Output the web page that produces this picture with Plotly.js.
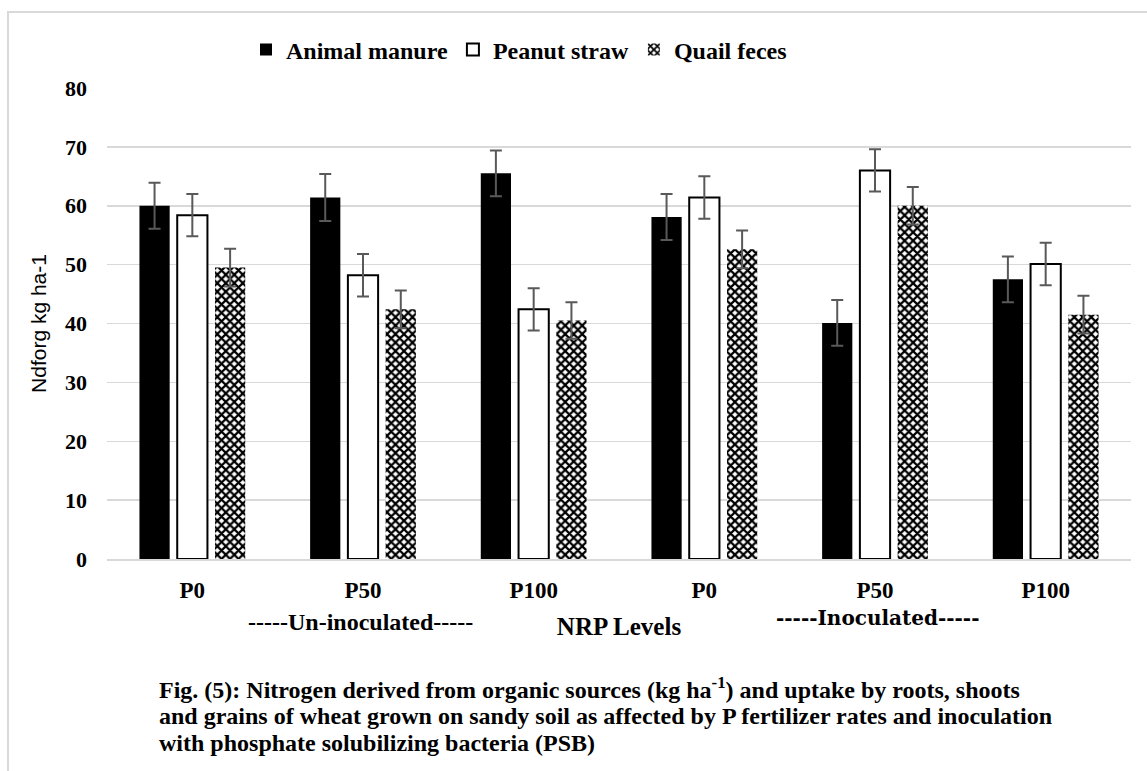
<!DOCTYPE html>
<html>
<head>
<meta charset="utf-8">
<script src="https://cdn.plot.ly/plotly-3.0.1.min.js"></script>
<style>
  html, body { margin: 0; padding: 0; background: #ffffff; }
  #chart { width: 1147px; height: 771px; }
</style>
</head>
<body>
<div id="chart"></div>
<script>
// ---- data ----
const categories = ["P0", "P50", "P100", "P0", "P50", "P100"];
const inoculation = ["Un-inoculated", "Un-inoculated", "Un-inoculated", "Inoculated", "Inoculated", "Inoculated"];
const seriesNames = ["Animal manure", "Peanut straw", "Quail feces"];
const animalManure = [60.0, 61.4, 65.5, 58.1, 40.1, 47.5];
const peanutStraw  = [58.4, 48.2, 42.4, 61.4, 66.0, 50.1];
const quailFeces   = [49.5, 42.4, 40.5, 52.6, 60.0, 41.5];
const animalErr = [3.9, 4.0, 3.9, 3.9, 3.9, 3.9];
const peanutErr = [3.6, 3.6, 3.6, 3.6, 3.6, 3.6];
const quailErr  = [3.2, 3.2, 3.1, 3.2, 3.2, 3.2];
const yTicks = [0, 10, 20, 30, 40, 50, 60, 70, 80];

// unique category keys (treatment + P level); ticks show only the P level
const xKeys = categories.map((c, i) => inoculation[i] + " " + c);

const serif = "Liberation Serif, Times New Roman, serif";
const errStyle = (arr) => ({ type: "data", array: arr, visible: true, color: "#595959", thickness: 2, width: 6 });

const traces = [
  {
    type: "bar", name: seriesNames[0], x: xKeys, y: animalManure,
    marker: { color: "#000000", line: { color: "#000000", width: 0 } },
    error_y: errStyle(animalErr)
  },
  {
    type: "bar", name: seriesNames[1], x: xKeys, y: peanutStraw,
    marker: { color: "#ffffff", line: { color: "#000000", width: 2 } },
    error_y: errStyle(peanutErr)
  },
  {
    type: "bar", name: seriesNames[2], x: xKeys, y: quailFeces,
    marker: {
      color: "#ffffff",
      line: { color: "#ffffff", width: 0 },
      pattern: { shape: "x", fgcolor: "#000000", bgcolor: "#ffffff", size: 6, solidity: 0.6, fillmode: "replace" }
    },
    error_y: errStyle(quailErr)
  }
];

// plot-area pixel geometry used to place paper-referenced decorations
const W = 1147, H = 771, L = 107, R = 16, T = 88, B = 212;
const pw = W - L - R, ph = H - T - B;
const px = (x) => (x - L) / pw;
const py = (y) => (H - B - y) / ph;

const layout = {
  width: W, height: H,
  margin: { l: L, r: R, t: T, b: B },
  paper_bgcolor: "#ffffff",
  plot_bgcolor: "#ffffff",
  barmode: "group",
  bargap: 0.336,
  bargroupgap: 0.2,
  showlegend: true,
  legend: {
    orientation: "h",
    x: px(246), xanchor: "left",
    y: py(50), yanchor: "middle",
    font: { family: serif, size: 24, color: "#000000", weight: "bold" },
    bgcolor: "rgba(0,0,0,0)",
    itemclick: false
  },
  xaxis: {
    type: "category",
    tickmode: "array",
    tickvals: xKeys,
    ticktext: categories.map(c => "<b>" + c + "</b>"),
    tickfont: { family: serif, size: 23, color: "#000000" },
    ticks: "",
    ticklabelstandoff: 9,
    showgrid: false,
    showline: true,
    linecolor: "#d9d9d9",
    linewidth: 2,
    zeroline: false,
    title: {
      text: "<b>NRP Levels</b>",
      font: { family: serif, size: 25, color: "#000000" },
      standoff: 16
    },
    automargin: false
  },
  yaxis: {
    range: [0, 80],
    tickmode: "array",
    tickvals: yTicks,
    ticktext: yTicks.map(v => "<b>" + v + "</b>"),
    tickfont: { family: serif, size: 22, color: "#000000" },
    ticks: "",
    ticklabelstandoff: 19,
    showgrid: true,
    gridcolor: "#d9d9d9",
    gridwidth: 1.5,
    showline: false,
    zeroline: false,
    title: {
      text: "Ndforg kg ha-1",
      font: { family: "Liberation Sans, Arial, sans-serif", size: 21, color: "#000000" },
      standoff: 12
    },
    automargin: false
  },
  annotations: [
    {
      xref: "paper", yref: "paper", x: px(360), y: py(622),
      xanchor: "center", yanchor: "middle", showarrow: false,
      text: "<b>-----Un-inoculated-----</b>",
      font: { family: serif, size: 24, color: "#000000" }
    },
    {
      xref: "paper", yref: "paper", x: px(877), y: py(618),
      xanchor: "center", yanchor: "middle", showarrow: false,
      text: "<b>-----Inoculated-----</b>",
      font: { family: "DejaVu Serif, serif", size: 20, color: "#000000" }
    },
    {
      xref: "paper", yref: "paper", x: px(157), y: py(688),
      xanchor: "left", yanchor: "middle", showarrow: false, align: "left",
      text: "<b>Fig. (5): Nitrogen derived from organic sources (kg ha<sup>-1</sup>) and uptake by roots, shoots</b>",
      font: { family: serif, size: 24, color: "#000000" }
    },
    {
      xref: "paper", yref: "paper", x: px(157), y: py(716),
      xanchor: "left", yanchor: "middle", showarrow: false, align: "left",
      text: "<b>and grains of wheat grown on sandy soil as affected by P fertilizer rates and inoculation</b>",
      font: { family: serif, size: 24, color: "#000000" }
    },
    {
      xref: "paper", yref: "paper", x: px(157), y: py(743),
      xanchor: "left", yanchor: "middle", showarrow: false, align: "left",
      text: "<b>with phosphate solubilizing bacteria (PSB)</b>",
      font: { family: serif, size: 24, color: "#000000" }
    }
  ],
  shapes: [
    {
      type: "path", xref: "paper", yref: "paper",
      path: "M " + px(8) + "," + py(771) + " L " + px(8) + "," + py(12) + " L " + px(1147) + "," + py(12),
      line: { color: "#d9d9d9", width: 2 },
      layer: "below"
    }
  ]
};

Plotly.newPlot("chart", traces, layout, { displayModeBar: false, staticPlot: true });
</script>
</body>
</html>
